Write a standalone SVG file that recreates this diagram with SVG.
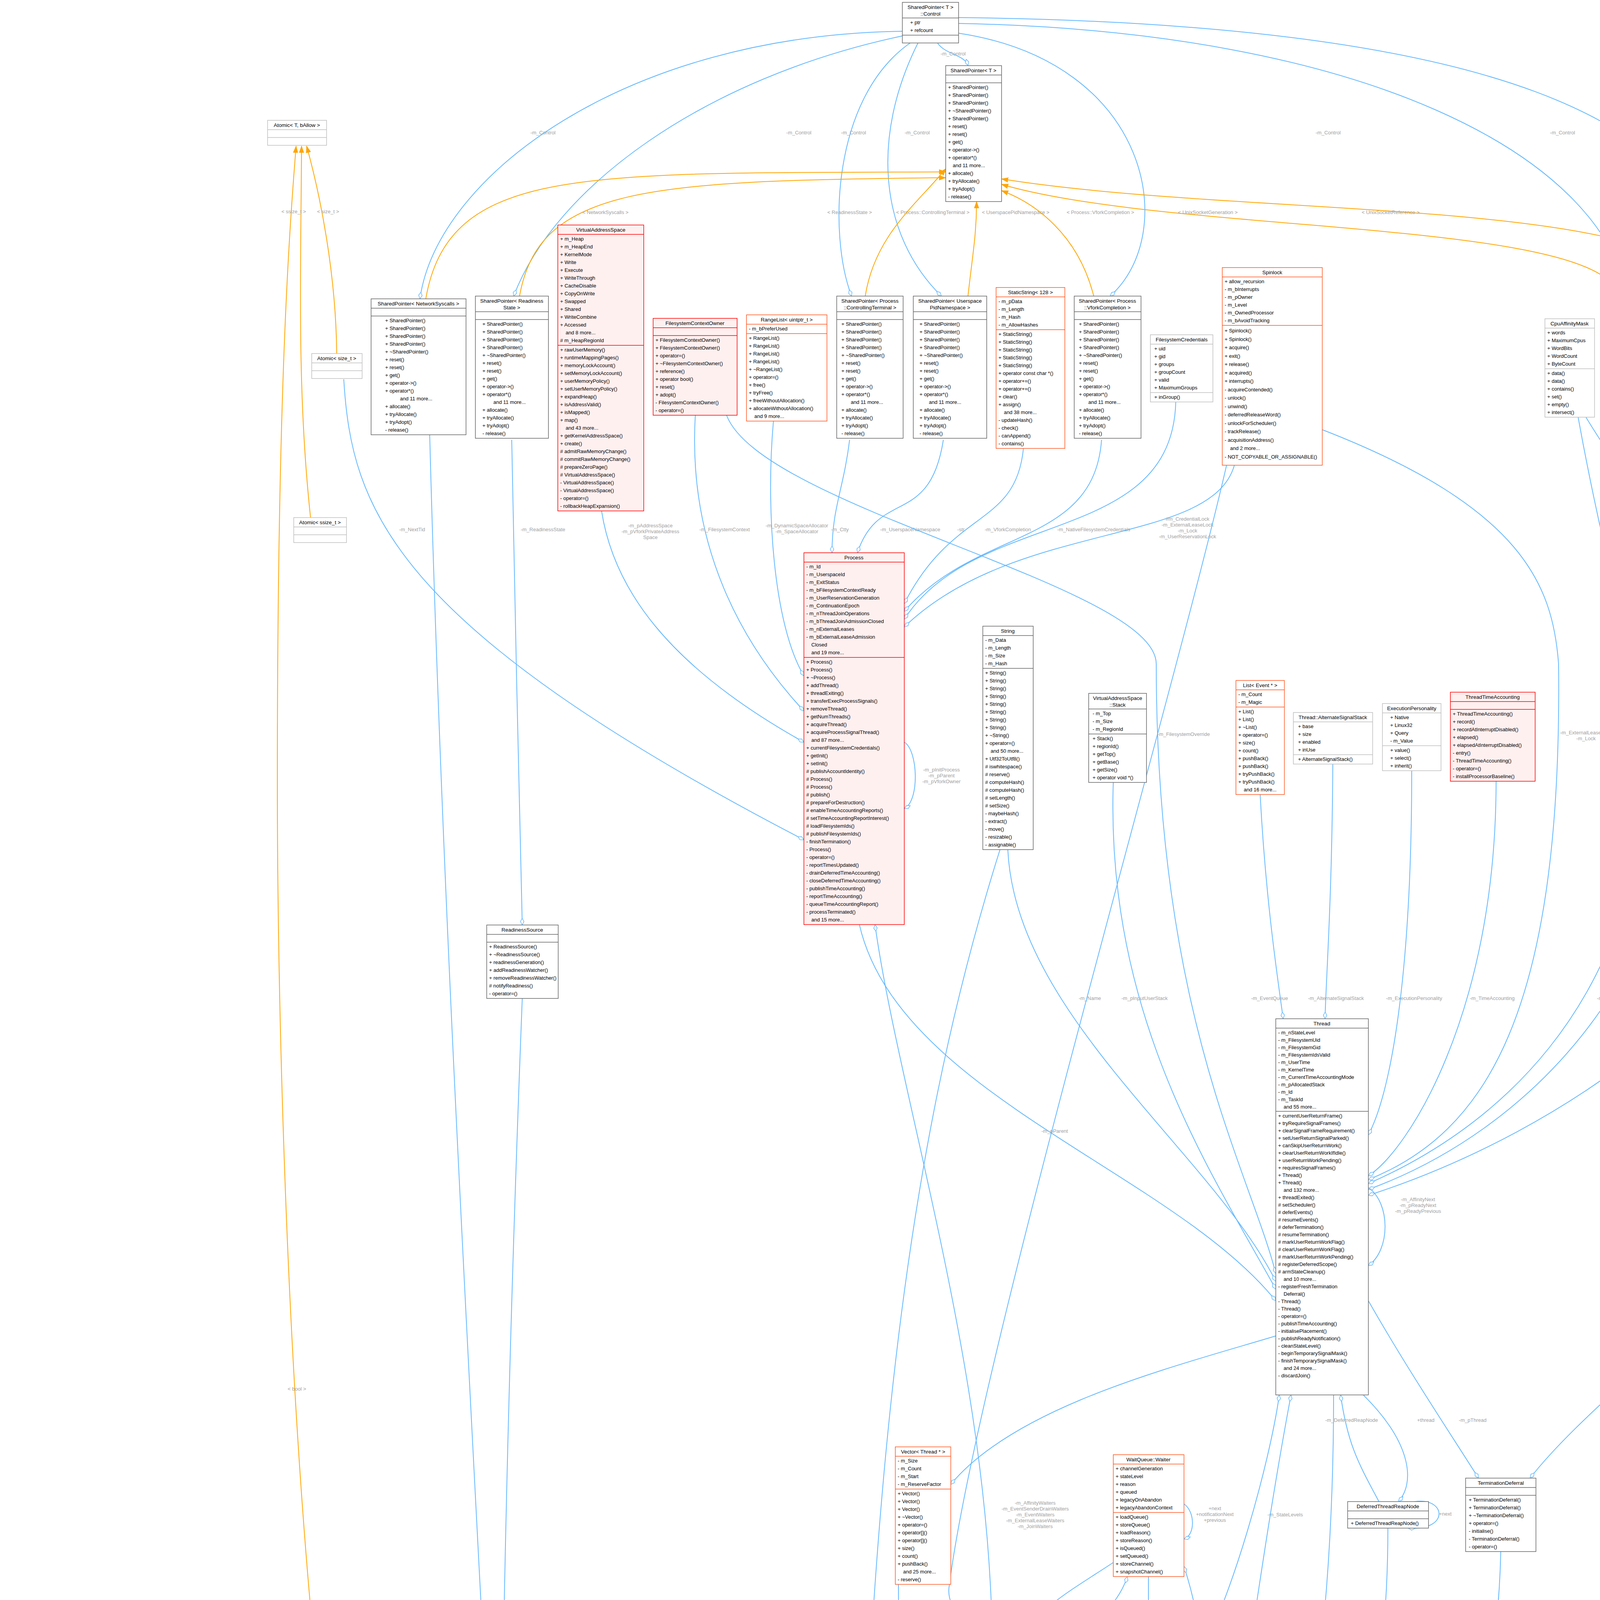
<svg xmlns="http://www.w3.org/2000/svg" width="5197" height="7208" viewBox="0 0 5197 7208">
<style>
.b{fill:#fff;stroke:#666;stroke-width:1.5}
.l{fill:#fff;stroke:#bfbfbf;stroke-width:1.5}
.o{fill:#fff;stroke:#ff5722;stroke-width:1.5}
.r{fill:#fff0f0;stroke:#ff0000;stroke-width:1.5}
.g{fill:#999;stroke:#666;stroke-width:1.5}
.s{stroke:#666;stroke-width:1.5;fill:none}
.so{stroke:#ff5722;stroke-width:1.5;fill:none}
.sr{stroke:#ff0000;stroke-width:1.5;fill:none}
.sl{stroke:#bfbfbf;stroke-width:1.5;fill:none}
text{font-family:"Liberation Sans",Arial,sans-serif;font-size:13px;fill:#000}
.t{text-anchor:middle;font-size:13.5px}
.lb{fill:#a0a0a0;text-anchor:middle}
.c{fill:none;stroke:#63b8ff;stroke-width:2}
.i{fill:none;stroke:#ffa500;stroke-width:2}
</style>
<defs>
<marker id="d" markerWidth="20" markerHeight="12" refX="18" refY="6" orient="auto" markerUnits="userSpaceOnUse"><path d="M1,6 L9,1.5 L18,6 L9,10.5 Z" fill="#fff" stroke="#63b8ff" stroke-width="1.5"/></marker>
<marker id="a" markerWidth="18" markerHeight="14" refX="17" refY="7" orient="auto" markerUnits="userSpaceOnUse"><path d="M0,1 L17,7 L0,13 Z" fill="#ffa500" stroke="#ffa500"/></marker>
<marker id="h" markerWidth="18" markerHeight="14" refX="17" refY="7" orient="auto" markerUnits="userSpaceOnUse"><path d="M0,1 L17,7 L0,13 Z" fill="#fff" stroke="#63b8ff" stroke-width="1.5"/></marker>
</defs>
<rect width="5197" height="7208" fill="#fff"/>

<g id="connectors">
<path class="c" marker-end="url(#d)" d="M2400,110 C2420,140 2470,140 2478,168"/>
<path class="c" marker-end="url(#d)" d="M2310,80 C1600,90 1120,450 1075,765"/>
<path class="c" marker-end="url(#d)" d="M2310,92 C1800,200 1420,480 1315,758"/>
<path class="c" marker-end="url(#d)" d="M2330,110 C2130,250 2120,600 2180,758"/>
<path class="c" marker-end="url(#d)" d="M2350,110 C2230,350 2250,600 2410,758"/>
<path class="c" marker-end="url(#d)" d="M2454,85 C2950,160 3020,600 2842,758"/>
<path class="c" marker-end="url(#d)" d="M2454,60 C3500,80 4100,400 4165,758"/>
<path class="c" marker-end="url(#d)" d="M2454,45 C3800,60 4400,300 4405,758"/>
<text class="lb" x="2440" y="142">-m_Control</text>
<text class="lb" x="1390" y="344">-m_Control</text>
<text class="lb" x="2045" y="344">-m_Control</text>
<text class="lb" x="2185" y="344">-m_Control</text>
<text class="lb" x="2348" y="344">-m_Control</text>
<text class="lb" x="3400" y="344">-m_Control</text>
<text class="lb" x="4000" y="344">-m_Control</text>
<path class="i" marker-end="url(#a)" d="M1090,765 C1150,420 1500,445 2421,440"/>
<path class="i" marker-end="url(#a)" d="M1330,758 C1380,480 1650,462 2421,455"/>
<path class="i" marker-end="url(#a)" d="M2215,758 C2240,600 2350,520 2421,432"/>
<path class="i" marker-end="url(#a)" d="M2478,758 C2490,650 2500,600 2500,516"/>
<path class="i" marker-end="url(#a)" d="M2800,758 C2760,600 2650,520 2564,488"/>
<path class="i" marker-end="url(#a)" d="M4145,758 C4100,560 3000,600 2564,472"/>
<path class="i" marker-end="url(#a)" d="M4380,758 C4300,500 3200,560 2564,458"/>
<text class="lb" x="1550" y="548">&lt; NetworkSyscalls &gt;</text>
<text class="lb" x="2175" y="548">&lt; ReadinessState &gt;</text>
<text class="lb" x="2388" y="548">&lt; Process::ControllingTerminal &gt;</text>
<text class="lb" x="2600" y="548">&lt; UserspacePidNamespace &gt;</text>
<text class="lb" x="2817" y="548">&lt; Process::VforkCompletion &gt;</text>
<text class="lb" x="3092" y="548">&lt; UnixSocketGeneration &gt;</text>
<text class="lb" x="3560" y="548">&lt; UnixSocketReference &gt;</text>
<path class="i" marker-end="url(#a)" d="M862,905 C860,700 820,500 785,374"/>
<path class="i" marker-end="url(#a)" d="M795,1325 C760,1000 770,700 772,374"/>
<path class="i" marker-end="url(#a)" d="M1025,5310 C780,4900 710,3000 710,2000 C710,1000 740,600 758,374"/>
<text class="lb" x="840" y="546">&lt; size_t &gt;</text>
<text class="lb" x="752" y="546">&lt; ssize_t &gt;</text>
<text class="lb" x="760" y="3560">&lt; bool &gt;</text>
<path class="c" marker-end="url(#d)" d="M385,4345 C420,4360 420,4420 401,4430"/>
<text class="lb" x="470" y="4368">+leftChild</text>
<text class="lb" x="470" y="4383">+parent</text>
<text class="lb" x="470" y="4398">+rightChild</text>
<path class="c" marker-end="url(#d)" d="M342,4438 C360,4600 405,4700 415,4782"/>
<text class="lb" x="440" y="4613">+value</text>
<text class="lb" x="440" y="4628">-pNode</text>
<text class="lb" x="440" y="4643">-pPreviousNode</text>
<path class="c" marker-end="url(#d)" d="M322,4438 C300,4700 280,4900 280,5120"/>
<text class="lb" x="313" y="4868">-root</text>
<path class="c" marker-end="url(#d)" d="M400,4950 C380,5030 350,5070 337,5120"/>
<text class="lb" x="380" y="5092">-m_Begin</text>
<path class="c" marker-end="url(#d)" d="M380,4438 C520,4650 640,5000 650,5830"/>
<text class="lb" x="660" y="5092">-root</text>
<path class="c" marker-end="url(#d)" d="M462,4950 C520,5300 600,5600 590,5830"/>
<text class="lb" x="570" y="5346">-m_Begin</text>
<path class="c" marker-end="url(#d)" d="M300,4438 C200,4700 150,5200 190,5830"/>
<path class="c" marker-end="url(#d)" d="M435,4950 C420,5400 480,5600 335,5880"/>
<text class="lb" x="430" y="5346">-m_Begin</text>
<path class="i" marker-end="url(#a)" d="M150,5850 C100,5600 120,5500 189,5420"/>
<path class="i" marker-end="url(#a)" d="M508,5830 C430,5700 380,5650 338,5572"/>
<text class="lb" x="190" y="5600">&lt; UnixSocket *, UnixSocket * &gt;</text>
<text class="lb" x="445" y="5600">&lt; UnixSocket *, UnixSocket</text>
<text class="lb" x="445" y="5615">Syscalls * &gt;</text>
<path class="c" marker-end="url(#d)" d="M880,971 C900,1300 1000,1600 2058,2150"/>
<text class="lb" x="1055" y="1360">-m_NextTid</text>
<path class="c" marker-end="url(#d)" d="M1310,1126 C1315,1500 1330,2000 1337,2368"/>
<text class="lb" x="1390" y="1360">-m_ReadinessState</text>
<path class="c" marker-end="url(#d)" d="M1540,1308 C1570,1500 1700,1700 2058,1900"/>
<text class="lb" x="1665" y="1350">-m_pAddressSpace</text>
<text class="lb" x="1665" y="1365">-m_pVforkPrivateAddress</text>
<text class="lb" x="1665" y="1380">Space</text>
<path class="c" marker-end="url(#d)" d="M1780,1063 C1760,1400 1900,1650 2058,1820"/>
<text class="lb" x="1855" y="1360">-m_FilesystemContext</text>
<path class="c" marker-end="url(#d)" d="M1980,1078 C1960,1300 1980,1600 2058,1730"/>
<text class="lb" x="2040" y="1350">-m_DynamicSpaceAllocator</text>
<text class="lb" x="2040" y="1365">-m_SpaceAllocator</text>
<path class="c" marker-end="url(#d)" d="M2175,1126 C2160,1250 2130,1300 2130,1415"/>
<text class="lb" x="2150" y="1360">-m_Ctty</text>
<path class="c" marker-end="url(#d)" d="M2415,1126 C2380,1350 2250,1250 2195,1415"/>
<text class="lb" x="2330" y="1360">-m_UserspaceNamespace</text>
<path class="c" marker-end="url(#d)" d="M2620,1148 C2600,1350 2440,1300 2315,1545"/>
<text class="lb" x="2460" y="1360">-str</text>
<path class="c" marker-end="url(#d)" d="M2820,1126 C2800,1400 2500,1350 2315,1565"/>
<text class="lb" x="2580" y="1360">-m_VforkCompletion</text>
<path class="c" marker-end="url(#d)" d="M3010,1029 C3000,1400 2500,1300 2315,1585"/>
<text class="lb" x="2800" y="1360">-m_NativeFilesystemCredentials</text>
<path class="c" marker-end="url(#d)" d="M3160,1191 C3100,1400 2600,1330 2315,1605"/>
<text class="lb" x="3040" y="1333">#m_CredentialLock</text>
<text class="lb" x="3040" y="1348">-m_ExternalLeaseLock</text>
<text class="lb" x="3040" y="1363">-m_Lock</text>
<text class="lb" x="3040" y="1378">-m_UserReservationLock</text>
<path class="c" marker-end="url(#d)" d="M2315,1900 C2350,1920 2355,2050 2315,2070"/>
<text class="lb" x="2410" y="1975">-m_pInitProcess</text>
<text class="lb" x="2410" y="1990">-m_pParent</text>
<text class="lb" x="2410" y="2005">-m_pVforkOwner</text>
<path class="c" marker-end="url(#d)" d="M2200,2367 C2300,2800 3000,3000 3266,3330"/>
<text class="lb" x="2700" y="2900">-m_pParent</text>
<path class="c" marker-end="url(#d)" d="M2580,2175 C2600,2600 3100,2950 3266,3280"/>
<text class="lb" x="2790" y="2560">-m_Name</text>
<path class="c" marker-end="url(#d)" d="M2850,2003 C2830,2600 3100,3000 3266,3300"/>
<text class="lb" x="2930" y="2560">-m_pInputUserStack</text>
<path class="c" marker-end="url(#d)" d="M1860,1063 C1950,1300 2960,1500 2960,1700 C2960,2600 3200,3000 3266,3260"/>
<text class="lb" x="3030" y="1884">-m_FilesystemOverride</text>
<path class="c" marker-end="url(#d)" d="M3226,2034 C3240,2300 3270,2500 3285,2608"/>
<text class="lb" x="3250" y="2560">-m_EventQueue</text>
<path class="c" marker-end="url(#d)" d="M3412,1956 C3410,2300 3395,2500 3392,2608"/>
<text class="lb" x="3420" y="2560">-m_AlternateSignalStack</text>
<path class="c" marker-end="url(#d)" d="M3614,1973 C3614,2500 3560,2800 3503,2905"/>
<text class="lb" x="3620" y="2560">-m_ExecutionPersonality</text>
<path class="c" marker-end="url(#d)" d="M3830,2000 C3830,2600 3600,2950 3503,3010"/>
<text class="lb" x="3820" y="2560">-m_TimeAccounting</text>
<path class="c" marker-end="url(#d)" d="M4219,1934 C4200,2600 3800,2900 3503,3030"/>
<text class="lb" x="4130" y="2560">-m_Placement</text>
<path class="c" marker-end="url(#d)" d="M3385,1100 C3900,1300 3975,1500 3990,1700 C4000,2600 3800,2900 3503,3020"/>
<text class="lb" x="4060" y="1880">-m_ExternalLeaseLock</text>
<text class="lb" x="4060" y="1895">-m_Lock</text>
<path class="c" marker-end="url(#d)" d="M4040,1068 C4100,1400 4180,1700 4220,1842"/>
<text class="lb" x="4240" y="1560">+allowed</text>
<path class="c" marker-end="url(#d)" d="M4060,1068 C4200,1300 4330,1400 4330,1800 C4330,2500 3900,2900 3503,3045"/>
<text class="lb" x="4420" y="2062">-m_RequestedAffinity</text>
<path class="c" marker-end="url(#d)" d="M4640,1973 C4600,2500 4000,2900 3503,3060"/>
<path class="c" marker-end="url(#d)" d="M4681,1800 C4710,1830 4710,1950 4681,1960"/>
<text class="lb" x="4730" y="1886">+next</text>
<path class="c" marker-end="url(#d)" d="M3503,3040 C3560,3080 3560,3200 3503,3240"/>
<text class="lb" x="3630" y="3075">-m_AffinityNext</text>
<text class="lb" x="3630" y="3090">-m_pReadyNext</text>
<text class="lb" x="3630" y="3105">-m_pReadyPrevious</text>
<path class="c" marker-end="url(#d)" d="M3530,3844 C3480,3750 3450,3700 3432,3571"/>
<text class="lb" x="3460" y="3640">-m_DeferredReapNode</text>
<path class="c" marker-end="url(#d)" d="M3490,3571 C3620,3700 3620,3800 3580,3844"/>
<text class="lb" x="3650" y="3640">+thread</text>
<path class="c" marker-end="url(#d)" d="M3605,3848 C3700,3820 3720,3920 3605,3912"/>
<text class="lb" x="3700" y="3880">+next</text>
<path class="c" marker-end="url(#d)" d="M3503,3330 C3600,3500 3700,3650 3785,3784"/>
<text class="lb" x="3770" y="3640">-m_pThread</text>
<path class="c" marker-end="url(#d)" d="M4700,2900 C4500,3300 4100,3550 3917,3784"/>
<path class="c" marker-end="url(#d)" d="M3073,4230 C3150,4100 3250,3750 3275,3571"/>
<text class="lb" x="3290" y="3882">-m_StateLevels</text>
<path class="c" marker-end="url(#d)" d="M2654,5660 C3100,5500 3130,4500 3305,3571"/>
<text class="lb" x="3340" y="4627">-m_pScheduler</text>
<path class="c" marker-end="url(#d)" d="M3414,3571 C3414,5000 3000,5600 2654,5675"/>
<text class="lb" x="3510" y="4626">-m_AffinityHead</text>
<text class="lb" x="3510" y="4641">-m_AffinityTail</text>
<text class="lb" x="3510" y="4656">-m_pIdleThread</text>
<path class="c" marker-end="url(#d)" d="M2654,5690 C3150,5400 3160,4400 3031,4010"/>
<text class="lb" x="3230" y="4866">+scheduler</text>
<path class="c" marker-end="url(#d)" d="M3553,3912 C3553,5000 3000,5600 2654,5700"/>
<text class="lb" x="3640" y="4866">-m_DeferredThreadReapStub</text>
<path class="c" marker-end="url(#d)" d="M3842,3972 C3820,5000 3100,5600 2654,5712"/>
<text class="lb" x="3900" y="4866">-m_TerminationDeferral</text>
<path class="c" marker-end="url(#d)" d="M2940,4036 L2940,4186"/>
<text class="lb" x="2990" y="4118">+m_Waiter</text>
<path class="c" marker-end="url(#d)" d="M2850,4000 C2760,4060 2650,4120 2622,4190"/>
<text class="lb" x="2755" y="4112">-m_pFirstWaiter</text>
<text class="lb" x="2755" y="4127">-m_pLastWaiter</text>
<path class="c" marker-end="url(#d)" d="M2622,4310 C2760,4200 2860,4120 2886,4036"/>
<text class="lb" x="2900" y="4118">+queue</text>
<path class="c" marker-end="url(#d)" d="M3031,3850 C3060,3870 3060,3930 3031,3940"/>
<text class="lb" x="3110" y="3866">+next</text>
<text class="lb" x="3110" y="3881">+notificationNext</text>
<text class="lb" x="3110" y="3896">+previous</text>
<path class="c" marker-end="url(#d)" d="M2540,4190 C2530,3500 2300,2800 2240,2367"/>
<text class="lb" x="2650" y="3852">-m_AffinityWaiters</text>
<text class="lb" x="2650" y="3867">-m_EventSenderDrainWaiters</text>
<text class="lb" x="2650" y="3882">-m_EventWaiters</text>
<text class="lb" x="2650" y="3897">-m_ExternalLeaseWaiters</text>
<text class="lb" x="2650" y="3912">-m_JoinWaiters</text>
<path class="c" marker-end="url(#d)" d="M3140,1191 C3000,1800 2500,3500 2430,4060 C2420,4120 2480,4150 2490,4190"/>
<text class="lb" x="2410" y="4114">-m_AffinityQueueLock</text>
<text class="lb" x="2410" y="4129">-m_IrqWorkLock</text>
<path class="c" marker-end="url(#d)" d="M3266,3420 C3000,3500 2600,3600 2434,3800"/>
<path class="c" marker-end="url(#d)" d="M2300,4056 C2300,4600 2350,5300 2440,5642"/>
<path class="c" marker-end="url(#d)" d="M2522,4582 L2522,5642"/>
<text class="lb" x="2700" y="5110">-m_TimeAccountingWorkerWaiters</text>
<path class="c" marker-end="url(#d)" d="M2422,4420 C2100,4550 1900,4600 1670,4750"/>
<text class="lb" x="1960" y="4632">-m_Waiters</text>
<path class="c" marker-end="url(#d)" d="M2422,4470 C2250,4600 2150,4700 2035,4780"/>
<text class="lb" x="2400" y="4632">-m_Waiters</text>
<path class="c" marker-end="url(#d)" d="M2560,2175 C2300,3000 2185,4000 2185,6000 C2185,6500 1800,6700 1755,6790"/>
<text class="lb" x="2245" y="4622">-m_LocalPath</text>
<text class="lb" x="2245" y="4637">-m_RemotePath</text>
<path class="c" marker-end="url(#h)" d="M1745,5280 C1720,5200 1680,5130 1655,5064"/>
<path class="c" marker-end="url(#d)" d="M1850,5406 C2000,5600 2200,5900 2390,6050"/>
<text class="lb" x="2160" y="5710">-m_NewThreadDataLock</text>
<path class="c" marker-end="url(#d)" d="M1879,5350 C2300,5400 2700,5600 2810,5977"/>
<text class="lb" x="2690" y="5606">-m_Lock</text>
<path class="c" marker-end="url(#d)" d="M1770,5406 C1740,5800 1700,6200 1660,6555"/>
<text class="lb" x="1840" y="6102">-m_EndpointMutationLock</text>
<text class="lb" x="1840" y="6117">-m_EndpointStateLock</text>
<text class="lb" x="1840" y="6132">-m_SyscallObjectsLock</text>
<path class="c" marker-end="url(#d)" d="M1740,5406 C1650,5600 1420,5500 1395,5797"/>
<text class="lb" x="1540" y="5596">#m_ReceiveErrorLock</text>
<text class="lb" x="1540" y="5611">-m_LifecycleLock</text>
<path class="c" marker-end="url(#d)" d="M1500,5064 C1420,5300 1600,5500 1370,5797"/>
<text class="lb" x="1530" y="5346">#m_ReadinessNotifications</text>
<path class="c" marker-end="url(#d)" d="M1030,5374 C1040,5700 1250,5500 1340,5797"/>
<text class="lb" x="1120" y="5606">#m_Blocking</text>
<path class="c" marker-end="url(#d)" d="M1020,5374 C960,5800 1000,6500 1500,6830"/>
<text class="lb" x="1130" y="6043">-m_EndpointCloseFinalized</text>
<text class="lb" x="1130" y="6058">-m_EndpointClosePending</text>
<text class="lb" x="1130" y="6073">-m_EndpointMutationReleaseIn</text>
<text class="lb" x="1130" y="6088">Progress</text>
<text class="lb" x="1130" y="6103">-m_EndpointRetired</text>
<path class="c" marker-end="url(#h)" d="M1560,6555 C1530,6450 1500,6380 1470,6329"/>
<path class="c" marker-end="url(#d)" d="M602,6298 C700,6600 1100,6750 1500,6870"/>
<path class="c" marker-end="url(#d)" d="M242,6298 C300,6700 1100,6850 1500,6885"/>
<path class="c" marker-end="url(#d)" d="M1100,1113 C1150,3000 1300,5000 1300,5797"/>
<path class="c" marker-end="url(#d)" d="M1337,2556 C1300,3500 1260,5000 1290,5797"/>
<path class="c" marker-end="url(#d)" d="M4200,1122 C4300,1500 4800,1600 4800,3000 C4800,5500 2100,6400 1755,6740"/>
<path class="c" marker-end="url(#d)" d="M4420,1122 C4700,1400 5000,1900 5000,3000 C5000,5500 2200,6500 1755,6760"/>
<path class="c" marker-end="url(#d)" d="M2806,6149 C2700,6600 2200,6900 1950,7103"/>
<text class="lb" x="2640" y="6930">-m_Guard</text>
<path class="c" marker-end="url(#d)" d="M1755,6990 C1820,7040 1880,7080 1920,7103"/>
<text class="lb" x="1935" y="7078">-m_Socket</text>
</g>

<g id="n-control" transform="translate(2310,6)"><rect class="b" width="144" height="104"/><text class="t" x="72" y="17">SharedPointer&lt; T &gt;</text><text class="t" x="72" y="34">::Control</text><path class="s" d="M0,40H144M0,84H144"/><text><tspan x="20" y="56">+   ptr</tspan><tspan x="20" dy="20">+   refcount</tspan></text></g>

<g id="n-spt" transform="translate(2421,168)"><rect class="b" width="143" height="348"/><text class="t" x="71" y="17">SharedPointer&lt; T &gt;</text><path class="s" d="M0,24H143M0,44H143"/><text><tspan x="6" y="60">+ SharedPointer()</tspan><tspan x="6" dy="20">+ SharedPointer()</tspan><tspan x="6" dy="20">+ SharedPointer()</tspan><tspan x="6" dy="20">+ ~SharedPointer()</tspan><tspan x="6" dy="20">+ SharedPointer()</tspan><tspan x="6" dy="20">+ reset()</tspan><tspan x="6" dy="20">+ reset()</tspan><tspan x="6" dy="20">+ get()</tspan><tspan x="6" dy="20">+ operator-&gt;()</tspan><tspan x="6" dy="20">+ operator*()</tspan><tspan x="18" dy="20">and 11 more...</tspan><tspan x="6" dy="20">+ allocate()</tspan><tspan x="6" dy="20">+ tryAllocate()</tspan><tspan x="6" dy="20">+ tryAdopt()</tspan><tspan x="6" dy="20">- release()</tspan></text></g>

<g id="n-sp-ct" transform="translate(2142,758)"><rect class="b" width="170" height="364"/><text class="t" x="85" y="17">SharedPointer&lt; Process</text><text class="t" x="85" y="34">::ControllingTerminal &gt;</text><path class="s" d="M0,40H170M0,60H170"/><text><tspan x="12" y="76">+   SharedPointer()</tspan><tspan x="12" dy="20">+   SharedPointer()</tspan><tspan x="12" dy="20">+   SharedPointer()</tspan><tspan x="12" dy="20">+   SharedPointer()</tspan><tspan x="12" dy="20">+   ~SharedPointer()</tspan><tspan x="12" dy="20">+   reset()</tspan><tspan x="12" dy="20">+   reset()</tspan><tspan x="12" dy="20">+   get()</tspan><tspan x="12" dy="20">+   operator-&gt;()</tspan><tspan x="12" dy="20">+   operator*()</tspan><tspan x="36" dy="20">and 11 more...</tspan><tspan x="12" dy="20">+   allocate()</tspan><tspan x="12" dy="20">+   tryAllocate()</tspan><tspan x="12" dy="20">+   tryAdopt()</tspan><tspan x="12" dy="20">-   release()</tspan></text></g>

<g id="n-sp-upn" transform="translate(2338,758)"><rect class="b" width="188" height="364"/><text class="t" x="94" y="17">SharedPointer&lt; Userspace</text><text class="t" x="94" y="34">PidNamespace &gt;</text><path class="s" d="M0,40H188M0,60H188"/><text><tspan x="16" y="76">+   SharedPointer()</tspan><tspan x="16" dy="20">+   SharedPointer()</tspan><tspan x="16" dy="20">+   SharedPointer()</tspan><tspan x="16" dy="20">+   SharedPointer()</tspan><tspan x="16" dy="20">+   ~SharedPointer()</tspan><tspan x="16" dy="20">+   reset()</tspan><tspan x="16" dy="20">+   reset()</tspan><tspan x="16" dy="20">+   get()</tspan><tspan x="16" dy="20">+   operator-&gt;()</tspan><tspan x="16" dy="20">+   operator*()</tspan><tspan x="40" dy="20">and 11 more...</tspan><tspan x="16" dy="20">+   allocate()</tspan><tspan x="16" dy="20">+   tryAllocate()</tspan><tspan x="16" dy="20">+   tryAdopt()</tspan><tspan x="16" dy="20">-   release()</tspan></text></g>

<g id="n-staticstring" transform="translate(2550,736)"><rect class="o" width="176" height="412"/><text class="t" x="88" y="17">StaticString&lt; 128 &gt;</text><path class="so" d="M0,24H176M0,108H176"/><text><tspan x="6" y="40">- m_pData</tspan><tspan x="6" dy="20">- m_Length</tspan><tspan x="6" dy="20">- m_Hash</tspan><tspan x="6" dy="20">- m_AllowHashes</tspan><tspan x="6" y="124">+ StaticString()</tspan><tspan x="6" dy="20">+ StaticString()</tspan><tspan x="6" dy="20">+ StaticString()</tspan><tspan x="6" dy="20">+ StaticString()</tspan><tspan x="6" dy="20">+ StaticString()</tspan><tspan x="6" dy="20">+ operator const char *()</tspan><tspan x="6" dy="20">+ operator+=()</tspan><tspan x="6" dy="20">+ operator+=()</tspan><tspan x="6" dy="20">+ clear()</tspan><tspan x="6" dy="20">+ assign()</tspan><tspan x="20" dy="20">and 38 more...</tspan><tspan x="6" dy="20">- updateHash()</tspan><tspan x="6" dy="20">- check()</tspan><tspan x="6" dy="20">- canAppend()</tspan><tspan x="6" dy="20">- contains()</tspan></text></g>

<g id="n-sp-vf" transform="translate(2750,758)"><rect class="b" width="171" height="364"/><text class="t" x="85" y="17">SharedPointer&lt; Process</text><text class="t" x="85" y="34">::VforkCompletion &gt;</text><path class="s" d="M0,40H171M0,60H171"/><text><tspan x="12" y="76">+   SharedPointer()</tspan><tspan x="12" dy="20">+   SharedPointer()</tspan><tspan x="12" dy="20">+   SharedPointer()</tspan><tspan x="12" dy="20">+   SharedPointer()</tspan><tspan x="12" dy="20">+   ~SharedPointer()</tspan><tspan x="12" dy="20">+   reset()</tspan><tspan x="12" dy="20">+   reset()</tspan><tspan x="12" dy="20">+   get()</tspan><tspan x="12" dy="20">+   operator-&gt;()</tspan><tspan x="12" dy="20">+   operator*()</tspan><tspan x="36" dy="20">and 11 more...</tspan><tspan x="12" dy="20">+   allocate()</tspan><tspan x="12" dy="20">+   tryAllocate()</tspan><tspan x="12" dy="20">+   tryAdopt()</tspan><tspan x="12" dy="20">-   release()</tspan></text></g>

<g id="n-fscred" transform="translate(2945,857)"><rect class="l" width="160" height="172"/><text class="t" x="80" y="17">FilesystemCredentials</text><path class="sl" d="M0,24H160M0,148H160"/><text><tspan x="10" y="40">+  uid</tspan><tspan x="10" dy="20">+  gid</tspan><tspan x="10" dy="20">+  groups</tspan><tspan x="10" dy="20">+  groupCount</tspan><tspan x="10" dy="20">+  valid</tspan><tspan x="10" dy="20">+  MaximumGroups</tspan><tspan x="10" y="164">+  inGroup()</tspan></text></g>

<g id="n-spinlock" transform="translate(3129,685)"><rect class="o" width="256" height="506"/><text class="t" x="128" y="17">Spinlock</text><path class="so" d="M0,24H256M0,148H256"/><text><tspan x="6" y="40">+ allow_recursion</tspan><tspan x="6" dy="20">- m_bInterrupts</tspan><tspan x="6" dy="20">- m_pOwner</tspan><tspan x="6" dy="20">- m_Level</tspan><tspan x="6" dy="20">- m_OwnedProcessor</tspan><tspan x="6" dy="20">- m_bAvoidTracking</tspan><tspan x="6" y="166">+ Spinlock()</tspan><tspan x="6" dy="21.5">+ Spinlock()</tspan><tspan x="6" dy="21.5">+ acquire()</tspan><tspan x="6" dy="21.5">+ exit()</tspan><tspan x="6" dy="21.5">+ release()</tspan><tspan x="6" dy="21.5">+ acquired()</tspan><tspan x="6" dy="21.5">+ interrupts()</tspan><tspan x="6" dy="21.5">- acquireContended()</tspan><tspan x="6" dy="21.5">- unlock()</tspan><tspan x="6" dy="21.5">- unwind()</tspan><tspan x="6" dy="21.5">- deferredReleaseWord()</tspan><tspan x="6" dy="21.5">- unlockForScheduler()</tspan><tspan x="6" dy="21.5">- trackRelease()</tspan><tspan x="6" dy="21.5">- acquisitionAddress()</tspan><tspan x="20" dy="21.5">and 2 more...</tspan><tspan x="6" dy="21.5">- NOT_COPYABLE_OR_ASSIGNABLE()</tspan></text></g>

<g id="n-cpuaffinity" transform="translate(3955,816)"><rect class="l" width="127" height="252"/><text class="t" x="63" y="17">CpuAffinityMask</text><path class="sl" d="M0,24H127M0,128H127"/><text><tspan x="6" y="40">+ words</tspan><tspan x="6" dy="20">+ MaximumCpus</tspan><tspan x="6" dy="20">+ WordBits</tspan><tspan x="6" dy="20">+ WordCount</tspan><tspan x="6" dy="20">+ ByteCount</tspan><tspan x="6" y="144">+ data()</tspan><tspan x="6" dy="20">+ data()</tspan><tspan x="6" dy="20">+ contains()</tspan><tspan x="6" dy="20">+ set()</tspan><tspan x="6" dy="20">+ empty()</tspan><tspan x="6" dy="20">+ intersect()</tspan></text></g>

<g id="n-sp-usg" transform="translate(4105,758)"><rect class="b" width="194" height="364"/><text class="t" x="97" y="17">SharedPointer&lt; UnixSocket</text><text class="t" x="97" y="34">Generation &gt;</text><path class="s" d="M0,40H194M0,60H194"/><text><tspan x="20" y="76">+   SharedPointer()</tspan><tspan x="20" dy="20">+   SharedPointer()</tspan><tspan x="20" dy="20">+   SharedPointer()</tspan><tspan x="20" dy="20">+   SharedPointer()</tspan><tspan x="20" dy="20">+   ~SharedPointer()</tspan><tspan x="20" dy="20">+   reset()</tspan><tspan x="20" dy="20">+   reset()</tspan><tspan x="20" dy="20">+   get()</tspan><tspan x="20" dy="20">+   operator-&gt;()</tspan><tspan x="20" dy="20">+   operator*()</tspan><tspan x="44" dy="20">and 11 more...</tspan><tspan x="20" dy="20">+   allocate()</tspan><tspan x="20" dy="20">+   tryAllocate()</tspan><tspan x="20" dy="20">+   tryAdopt()</tspan><tspan x="20" dy="20">-   release()</tspan></text></g>

<g id="n-sp-usr" transform="translate(4322,758)"><rect class="b" width="194" height="364"/><text class="t" x="97" y="17">SharedPointer&lt; UnixSocket</text><text class="t" x="97" y="34">Reference &gt;</text><path class="s" d="M0,40H194M0,60H194"/><text><tspan x="20" y="76">+   SharedPointer()</tspan><tspan x="20" dy="20">+   SharedPointer()</tspan><tspan x="20" dy="20">+   SharedPointer()</tspan><tspan x="20" dy="20">+   SharedPointer()</tspan><tspan x="20" dy="20">+   ~SharedPointer()</tspan><tspan x="20" dy="20">+   reset()</tspan><tspan x="20" dy="20">+   reset()</tspan><tspan x="20" dy="20">+   get()</tspan><tspan x="20" dy="20">+   operator-&gt;()</tspan><tspan x="20" dy="20">+   operator*()</tspan><tspan x="44" dy="20">and 11 more...</tspan><tspan x="20" dy="20">+   allocate()</tspan><tspan x="20" dy="20">+   tryAllocate()</tspan><tspan x="20" dy="20">+   tryAdopt()</tspan><tspan x="20" dy="20">-   release()</tspan></text></g>

<g id="n-atomic-t" transform="translate(685,308)"><rect class="l" width="151" height="64"/><text class="t" x="75" y="17">Atomic&lt; T, bAllow &gt;</text><path class="sl" d="M0,24H151M0,44H151"/></g>
<g id="n-atomic-size" transform="translate(798,905)"><rect class="l" width="129" height="64"/><text class="t" x="64" y="17">Atomic&lt; size_t &gt;</text><path class="sl" d="M0,24H129M0,44H129"/></g>
<g id="n-atomic-ssize" transform="translate(752,1325)"><rect class="l" width="135" height="64"/><text class="t" x="67" y="17">Atomic&lt; ssize_t &gt;</text><path class="sl" d="M0,24H135M0,44H135"/></g>
<g id="n-atomic-bool" transform="translate(966,5310)"><rect class="l" width="119" height="64"/><text class="t" x="59" y="17">Atomic&lt; bool &gt;</text><path class="sl" d="M0,24H119M0,44H119"/></g>

<g id="n-sp-ns" transform="translate(950,765)"><rect class="b" width="243" height="348"/><text class="t" x="121" y="17">SharedPointer&lt; NetworkSyscalls &gt;</text><path class="s" d="M0,24H243M0,44H243"/><text><tspan x="36" y="60">+        SharedPointer()</tspan><tspan x="36" dy="20">+        SharedPointer()</tspan><tspan x="36" dy="20">+        SharedPointer()</tspan><tspan x="36" dy="20">+        SharedPointer()</tspan><tspan x="36" dy="20">+        ~SharedPointer()</tspan><tspan x="36" dy="20">+        reset()</tspan><tspan x="36" dy="20">+        reset()</tspan><tspan x="36" dy="20">+        get()</tspan><tspan x="36" dy="20">+        operator-&gt;()</tspan><tspan x="36" dy="20">+        operator*()</tspan><tspan x="74" dy="20">and 11 more...</tspan><tspan x="36" dy="20">+        allocate()</tspan><tspan x="36" dy="20">+        tryAllocate()</tspan><tspan x="36" dy="20">+        tryAdopt()</tspan><tspan x="36" dy="20">-        release()</tspan></text></g>

<g id="n-sp-rs" transform="translate(1217,758)"><rect class="b" width="187" height="364"/><text class="t" x="93" y="17">SharedPointer&lt; Readiness</text><text class="t" x="93" y="34">State &gt;</text><path class="s" d="M0,40H187M0,60H187"/><text><tspan x="18" y="76">+    SharedPointer()</tspan><tspan x="18" dy="20">+    SharedPointer()</tspan><tspan x="18" dy="20">+    SharedPointer()</tspan><tspan x="18" dy="20">+    SharedPointer()</tspan><tspan x="18" dy="20">+    ~SharedPointer()</tspan><tspan x="18" dy="20">+    reset()</tspan><tspan x="18" dy="20">+    reset()</tspan><tspan x="18" dy="20">+    get()</tspan><tspan x="18" dy="20">+    operator-&gt;()</tspan><tspan x="18" dy="20">+    operator*()</tspan><tspan x="46" dy="20">and 11 more...</tspan><tspan x="18" dy="20">+    allocate()</tspan><tspan x="18" dy="20">+    tryAllocate()</tspan><tspan x="18" dy="20">+    tryAdopt()</tspan><tspan x="18" dy="20">-    release()</tspan></text></g>

<g id="n-vas" transform="translate(1428,576)"><rect class="r" width="220" height="732"/><text class="t" x="110" y="17">VirtualAddressSpace</text><path class="sr" d="M0,24H220M0,308H220"/><text><tspan x="6" y="40">+ m_Heap</tspan><tspan x="6" dy="20">+ m_HeapEnd</tspan><tspan x="6" dy="20">+ KernelMode</tspan><tspan x="6" dy="20">+ Write</tspan><tspan x="6" dy="20">+ Execute</tspan><tspan x="6" dy="20">+ WriteThrough</tspan><tspan x="6" dy="20">+ CacheDisable</tspan><tspan x="6" dy="20">+ CopyOnWrite</tspan><tspan x="6" dy="20">+ Swapped</tspan><tspan x="6" dy="20">+ Shared</tspan><tspan x="6" dy="20">+ WriteCombine</tspan><tspan x="6" dy="20">+ Accessed</tspan><tspan x="20" dy="20">and 8 more...</tspan><tspan x="6" dy="20"># m_HeapRegionId</tspan><tspan x="6" y="324">+ rawUserMemory()</tspan><tspan x="6" dy="20">+ runtimeMappingPages()</tspan><tspan x="6" dy="20">+ memoryLockAccount()</tspan><tspan x="6" dy="20">+ setMemoryLockAccount()</tspan><tspan x="6" dy="20">+ userMemoryPolicy()</tspan><tspan x="6" dy="20">+ setUserMemoryPolicy()</tspan><tspan x="6" dy="20">+ expandHeap()</tspan><tspan x="6" dy="20">+ isAddressValid()</tspan><tspan x="6" dy="20">+ isMapped()</tspan><tspan x="6" dy="20">+ map()</tspan><tspan x="20" dy="20">and 43 more...</tspan><tspan x="6" dy="20">+ getKernelAddressSpace()</tspan><tspan x="6" dy="20">+ create()</tspan><tspan x="6" dy="20"># admitRawMemoryChange()</tspan><tspan x="6" dy="20"># commitRawMemoryChange()</tspan><tspan x="6" dy="20"># prepareZeroPage()</tspan><tspan x="6" dy="20"># VirtualAddressSpace()</tspan><tspan x="6" dy="20">- VirtualAddressSpace()</tspan><tspan x="6" dy="20">- VirtualAddressSpace()</tspan><tspan x="6" dy="20">- operator=()</tspan><tspan x="6" dy="20">- rollbackHeapExpansion()</tspan></text></g>

<g id="n-fsco" transform="translate(1672,815)"><rect class="r" width="215" height="248"/><text class="t" x="107" y="17">FilesystemContextOwner</text><path class="sr" d="M0,24H215M0,44H215"/><text><tspan x="6" y="60">+ FilesystemContextOwner()</tspan><tspan x="6" dy="20">+ FilesystemContextOwner()</tspan><tspan x="6" dy="20">+ operator=()</tspan><tspan x="6" dy="20">+ ~FilesystemContextOwner()</tspan><tspan x="6" dy="20">+ reference()</tspan><tspan x="6" dy="20">+ operator bool()</tspan><tspan x="6" dy="20">+ reset()</tspan><tspan x="6" dy="20">+ adopt()</tspan><tspan x="6" dy="20">- FilesystemContextOwner()</tspan><tspan x="6" dy="20">- operator=()</tspan></text></g>

<g id="n-rangelist" transform="translate(1911,806)"><rect class="o" width="206" height="272"/><text class="t" x="103" y="17">RangeList&lt; uintptr_t &gt;</text><path class="so" d="M0,24H206M0,48H206"/><text><tspan x="6" y="40">- m_bPreferUsed</tspan><tspan x="6" y="64">+ RangeList()</tspan><tspan x="6" dy="20">+ RangeList()</tspan><tspan x="6" dy="20">+ RangeList()</tspan><tspan x="6" dy="20">+ RangeList()</tspan><tspan x="6" dy="20">+ ~RangeList()</tspan><tspan x="6" dy="20">+ operator=()</tspan><tspan x="6" dy="20">+ free()</tspan><tspan x="6" dy="20">+ tryFree()</tspan><tspan x="6" dy="20">+ freeWithoutAllocation()</tspan><tspan x="6" dy="20">+ allocateWithoutAllocation()</tspan><tspan x="20" dy="20">and 9 more...</tspan></text></g>

<g id="n-process" transform="translate(2058,1415)"><rect class="r" width="257" height="952"/><text class="t" x="128" y="17">Process</text><path class="sr" d="M0,24H257M0,268H257"/><text><tspan x="6" y="40">- m_Id</tspan><tspan x="6" dy="20">- m_UserspaceId</tspan><tspan x="6" dy="20">- m_ExitStatus</tspan><tspan x="6" dy="20">- m_bFilesystemContextReady</tspan><tspan x="6" dy="20">- m_UserReservationGeneration</tspan><tspan x="6" dy="20">- m_ContinuationEpoch</tspan><tspan x="6" dy="20">- m_nThreadJoinOperations</tspan><tspan x="6" dy="20">- m_bThreadJoinAdmissionClosed</tspan><tspan x="6" dy="20">- m_nExternalLeases</tspan><tspan x="6" dy="20">- m_bExternalLeaseAdmission</tspan><tspan x="19" dy="20">Closed</tspan><tspan x="19" dy="20">and 19 more...</tspan><tspan x="6" y="284">+ Process()</tspan><tspan x="6" dy="20">+ Process()</tspan><tspan x="6" dy="20">+ ~Process()</tspan><tspan x="6" dy="20">+ addThread()</tspan><tspan x="6" dy="20">+ threadExiting()</tspan><tspan x="6" dy="20">+ transferExecProcessSignals()</tspan><tspan x="6" dy="20">+ removeThread()</tspan><tspan x="6" dy="20">+ getNumThreads()</tspan><tspan x="6" dy="20">+ acquireThread()</tspan><tspan x="6" dy="20">+ acquireProcessSignalThread()</tspan><tspan x="19" dy="20">and 87 more...</tspan><tspan x="6" dy="20">+ currentFilesystemCredentials()</tspan><tspan x="6" dy="20">+ getInit()</tspan><tspan x="6" dy="20">+ setInit()</tspan><tspan x="6" dy="20"># publishAccountIdentity()</tspan><tspan x="6" dy="20"># Process()</tspan><tspan x="6" dy="20"># Process()</tspan><tspan x="6" dy="20"># publish()</tspan><tspan x="6" dy="20"># prepareForDestruction()</tspan><tspan x="6" dy="20"># enableTimeAccountingReports()</tspan><tspan x="6" dy="20"># setTimeAccountingReportInterest()</tspan><tspan x="6" dy="20"># loadFilesystemIds()</tspan><tspan x="6" dy="20"># publishFilesystemIds()</tspan><tspan x="6" dy="20">- finishTermination()</tspan><tspan x="6" dy="20">- Process()</tspan><tspan x="6" dy="20">- operator=()</tspan><tspan x="6" dy="20">- reportTimesUpdated()</tspan><tspan x="6" dy="20">- drainDeferredTimeAccounting()</tspan><tspan x="6" dy="20">- closeDeferredTimeAccounting()</tspan><tspan x="6" dy="20">- publishTimeAccounting()</tspan><tspan x="6" dy="20">- reportTimeAccounting()</tspan><tspan x="6" dy="20">- queueTimeAccountingReport()</tspan><tspan x="6" dy="20">- processTerminated()</tspan><tspan x="19" dy="20">and 15 more...</tspan></text></g>

<g id="n-readinesssource" transform="translate(1246,2368)"><rect class="b" width="183" height="188"/><text class="t" x="91" y="17">ReadinessSource</text><path class="s" d="M0,24H183M0,44H183"/><text><tspan x="6" y="60">+ ReadinessSource()</tspan><tspan x="6" dy="20">+ ~ReadinessSource()</tspan><tspan x="6" dy="20">+ readinessGeneration()</tspan><tspan x="6" dy="20">+ addReadinessWatcher()</tspan><tspan x="6" dy="20">+ removeReadinessWatcher()</tspan><tspan x="6" dy="20"># notifyReadiness()</tspan><tspan x="6" dy="20">- operator=()</tspan></text></g>

<g id="n-string" transform="translate(2516,1603)"><rect class="b" width="129" height="572"/><text class="t" x="64" y="17">String</text><path class="s" d="M0,24H129M0,108H129"/><text><tspan x="6" y="40">- m_Data</tspan><tspan x="6" dy="20">- m_Length</tspan><tspan x="6" dy="20">- m_Size</tspan><tspan x="6" dy="20">- m_Hash</tspan><tspan x="6" y="124">+ String()</tspan><tspan x="6" dy="20">+ String()</tspan><tspan x="6" dy="20">+ String()</tspan><tspan x="6" dy="20">+ String()</tspan><tspan x="6" dy="20">+ String()</tspan><tspan x="6" dy="20">+ String()</tspan><tspan x="6" dy="20">+ String()</tspan><tspan x="6" dy="20">+ String()</tspan><tspan x="6" dy="20">+ ~String()</tspan><tspan x="6" dy="20">+ operator=()</tspan><tspan x="20" dy="20">and 50 more...</tspan><tspan x="6" dy="20">+ Utf32ToUtf8()</tspan><tspan x="6" dy="20"># iswhitespace()</tspan><tspan x="6" dy="20"># reserve()</tspan><tspan x="6" dy="20"># computeHash()</tspan><tspan x="6" dy="20"># computeHash()</tspan><tspan x="6" dy="20"># setLength()</tspan><tspan x="6" dy="20"># setSize()</tspan><tspan x="6" dy="20">- maybeHash()</tspan><tspan x="6" dy="20">- extract()</tspan><tspan x="6" dy="20">- move()</tspan><tspan x="6" dy="20">- resizable()</tspan><tspan x="6" dy="20">- assignable()</tspan></text></g>

<g id="n-stack" transform="translate(2787,1775)"><rect class="b" width="148" height="228"/><text class="t" x="74" y="17">VirtualAddressSpace</text><text class="t" x="74" y="34">::Stack</text><path class="s" d="M0,40H148M0,104H148"/><text><tspan x="10" y="56">-  m_Top</tspan><tspan x="10" dy="20">-  m_Size</tspan><tspan x="10" dy="20">-  m_RegionId</tspan><tspan x="10" y="120">+  Stack()</tspan><tspan x="10" dy="20">+  regionId()</tspan><tspan x="10" dy="20">+  getTop()</tspan><tspan x="10" dy="20">+  getBase()</tspan><tspan x="10" dy="20">+  getSize()</tspan><tspan x="10" dy="20">+  operator void *()</tspan></text></g>

<g id="n-list" transform="translate(3164,1742)"><rect class="o" width="124" height="292"/><text class="t" x="62" y="17">List&lt; Event * &gt;</text><path class="so" d="M0,24H124M0,68H124"/><text><tspan x="6" y="40">-  m_Count</tspan><tspan x="6" dy="20">-  m_Magic</tspan><tspan x="6" y="84">+ List()</tspan><tspan x="6" dy="20">+ List()</tspan><tspan x="6" dy="20">+ ~List()</tspan><tspan x="6" dy="20">+ operator=()</tspan><tspan x="6" dy="20">+ size()</tspan><tspan x="6" dy="20">+ count()</tspan><tspan x="6" dy="20">+ pushBack()</tspan><tspan x="6" dy="20">+ pushBack()</tspan><tspan x="6" dy="20">+ tryPushBack()</tspan><tspan x="6" dy="20">+ tryPushBack()</tspan><tspan x="20" dy="20">and 16 more...</tspan></text></g>

<g id="n-altstack" transform="translate(3311,1824)"><rect class="l" width="203" height="132"/><text class="t" x="101" y="17">Thread::AlternateSignalStack</text><path class="sl" d="M0,24H203M0,108H203"/><text><tspan x="12" y="40">+   base</tspan><tspan x="12" dy="20">+   size</tspan><tspan x="12" dy="20">+   enabled</tspan><tspan x="12" dy="20">+   inUse</tspan><tspan x="12" y="124">+   AlternateSignalStack()</tspan></text></g>

<g id="n-execpers" transform="translate(3539,1801)"><rect class="l" width="150" height="172"/><text class="t" x="75" y="17">ExecutionPersonality</text><path class="sl" d="M0,24H150M0,108H150"/><text><tspan x="20" y="40">+     Native</tspan><tspan x="20" dy="20">+     Linux32</tspan><tspan x="20" dy="20">+     Query</tspan><tspan x="20" dy="20">-     m_Value</tspan><tspan x="20" y="124">+     value()</tspan><tspan x="20" dy="20">+     select()</tspan><tspan x="20" dy="20">+     inherit()</tspan></text></g>

<g id="n-tta" transform="translate(3713,1772)"><rect class="r" width="217" height="228"/><text class="t" x="108" y="17">ThreadTimeAccounting</text><path class="sr" d="M0,24H217M0,44H217"/><text><tspan x="6" y="60">+ ThreadTimeAccounting()</tspan><tspan x="6" dy="20">+ record()</tspan><tspan x="6" dy="20">+ recordAtInterruptDisabled()</tspan><tspan x="6" dy="20">+ elapsed()</tspan><tspan x="6" dy="20">+ elapsedAtInterruptDisabled()</tspan><tspan x="6" dy="20">- entry()</tspan><tspan x="6" dy="20">- ThreadTimeAccounting()</tspan><tspan x="6" dy="20">- operator=()</tspan><tspan x="6" dy="20">- installProcessorBaseline()</tspan></text></g>

<g id="n-placement" transform="translate(4155,1842)"><rect class="l" width="128" height="92"/><text class="t" x="64" y="17">ThreadPlacement</text><path class="sl" d="M0,24H128M0,48H128"/><text><tspan x="10" y="40">+  migratable</tspan><tspan x="10" y="64">+  initialUser()</tspan><tspan x="10" dy="20">+  inherit()</tspan></text></g>

<g id="n-dsr" transform="translate(4501,1781)"><rect class="b" width="180" height="192"/><text class="t" x="90" y="17">DeferredScopeRecord</text><path class="s" d="M0,24H180M0,148H180"/><text><tspan x="6" y="40">+ stateLevel</tspan><tspan x="6" dy="20">+ sequence</tspan><tspan x="6" dy="20">+ defersTermination</tspan><tspan x="6" dy="20">+ defersEvents</tspan><tspan x="6" dy="20">+ cleanup</tspan><tspan x="6" dy="20">+ active</tspan><tspan x="6" y="164">+ DeferredScopeRecord()</tspan><tspan x="6" dy="20">+ DeferredScopeRecord()</tspan></text></g>

<g id="n-thread" transform="translate(3266,2608)"><rect class="b" width="237" height="963"/><text class="t" x="118" y="17">Thread</text><path class="s" d="M0,24H237M0,237H237"/><text><tspan x="6" y="40">-  m_nStateLevel</tspan><tspan x="6" dy="19">-  m_FilesystemUid</tspan><tspan x="6" dy="19">-  m_FilesystemGid</tspan><tspan x="6" dy="19">-  m_FilesystemIdsValid</tspan><tspan x="6" dy="19">-  m_UserTime</tspan><tspan x="6" dy="19">-  m_KernelTime</tspan><tspan x="6" dy="19">-  m_CurrentTimeAccountingMode</tspan><tspan x="6" dy="19">-  m_pAllocatedStack</tspan><tspan x="6" dy="19">-  m_Id</tspan><tspan x="6" dy="19">-  m_TaskId</tspan><tspan x="20" dy="19">and 55 more...</tspan><tspan x="6" y="253">+ currentUserReturnFrame()</tspan><tspan x="6" dy="19">+ tryRequireSignalFrames()</tspan><tspan x="6" dy="19">+ clearSignalFrameRequirement()</tspan><tspan x="6" dy="19">+ setUserReturnSignalParked()</tspan><tspan x="6" dy="19">+ canSkipUserReturnWork()</tspan><tspan x="6" dy="19">+ clearUserReturnWorkIfIdle()</tspan><tspan x="6" dy="19">+ userReturnWorkPending()</tspan><tspan x="6" dy="19">+ requiresSignalFrames()</tspan><tspan x="6" dy="19">+ Thread()</tspan><tspan x="6" dy="19">+ Thread()</tspan><tspan x="20" dy="19">and 132 more...</tspan><tspan x="6" dy="19">+ threadExited()</tspan><tspan x="6" dy="19"># setScheduler()</tspan><tspan x="6" dy="19"># deferEvents()</tspan><tspan x="6" dy="19"># resumeEvents()</tspan><tspan x="6" dy="19"># deferTermination()</tspan><tspan x="6" dy="19"># resumeTermination()</tspan><tspan x="6" dy="19"># markUserReturnWorkFlag()</tspan><tspan x="6" dy="19"># clearUserReturnWorkFlag()</tspan><tspan x="6" dy="19"># markUserReturnWorkPending()</tspan><tspan x="6" dy="19"># registerDeferredScope()</tspan><tspan x="6" dy="19"># armStateCleanup()</tspan><tspan x="20" dy="19">and 10 more...</tspan><tspan x="6" dy="19">- registerFreshTermination</tspan><tspan x="20" dy="19">Deferral()</tspan><tspan x="6" dy="19">- Thread()</tspan><tspan x="6" dy="19">- Thread()</tspan><tspan x="6" dy="19">- operator=()</tspan><tspan x="6" dy="19">- publishTimeAccounting()</tspan><tspan x="6" dy="19">- initialisePlacement()</tspan><tspan x="6" dy="19">- publishReadyNotification()</tspan><tspan x="6" dy="19">- cleanStateLevel()</tspan><tspan x="6" dy="19">- beginTemporarySignalMask()</tspan><tspan x="6" dy="19">- finishTemporarySignalMask()</tspan><tspan x="20" dy="19">and 24 more...</tspan><tspan x="6" dy="19">- discardJoin()</tspan></text></g>

<g id="n-dtrn" transform="translate(3450,3844)"><rect class="b" width="207" height="68"/><text class="t" x="103" y="17">DeferredThreadReapNode</text><path class="s" d="M0,24H207M0,44H207"/><text><tspan x="8" y="60">+  DeferredThreadReapNode()</tspan></text></g>

<g id="n-termdef" transform="translate(3752,3784)"><rect class="b" width="180" height="188"/><text class="t" x="90" y="17">TerminationDeferral</text><path class="s" d="M0,24H180M0,44H180"/><text><tspan x="8" y="60">+  TerminationDeferral()</tspan><tspan x="8" dy="20">+  TerminationDeferral()</tspan><tspan x="8" dy="20">+  ~TerminationDeferral()</tspan><tspan x="8" dy="20">+  operator=()</tspan><tspan x="8" dy="20">-  initialise()</tspan><tspan x="8" dy="20">-  TerminationDeferral()</tspan><tspan x="8" dy="20">-  operator=()</tspan></text></g>

<g id="n-vector" transform="translate(2292,3704)"><rect class="o" width="142" height="352"/><text class="t" x="71" y="17">Vector&lt; Thread * &gt;</text><path class="so" d="M0,24H142M0,108H142"/><text><tspan x="6" y="40">-  m_Size</tspan><tspan x="6" dy="20">-  m_Count</tspan><tspan x="6" dy="20">-  m_Start</tspan><tspan x="6" dy="20">-  m_ReserveFactor</tspan><tspan x="6" y="124">+ Vector()</tspan><tspan x="6" dy="20">+ Vector()</tspan><tspan x="6" dy="20">+ Vector()</tspan><tspan x="6" dy="20">+ ~Vector()</tspan><tspan x="6" dy="20">+ operator=()</tspan><tspan x="6" dy="20">+ operator[]()</tspan><tspan x="6" dy="20">+ operator[]()</tspan><tspan x="6" dy="20">+ size()</tspan><tspan x="6" dy="20">+ count()</tspan><tspan x="6" dy="20">+ pushBack()</tspan><tspan x="20" dy="20">and 25 more...</tspan><tspan x="6" dy="20">-  reserve()</tspan></text></g>

<g id="n-waiter" transform="translate(2850,3724)"><rect class="o" width="181" height="312"/><text class="t" x="90" y="17">WaitQueue::Waiter</text><path class="so" d="M0,24H181M0,148H181"/><text><tspan x="6" y="40">+ channelGeneration</tspan><tspan x="6" dy="20">+ stateLevel</tspan><tspan x="6" dy="20">+ reason</tspan><tspan x="6" dy="20">+ queued</tspan><tspan x="6" dy="20">+ legacyOnAbandon</tspan><tspan x="6" dy="20">+ legacyAbandonContext</tspan><tspan x="6" y="164">+ loadQueue()</tspan><tspan x="6" dy="20">+ storeQueue()</tspan><tspan x="6" dy="20">+ loadReason()</tspan><tspan x="6" dy="20">+ storeReason()</tspan><tspan x="6" dy="20">+ isQueued()</tspan><tspan x="6" dy="20">+ setQueued()</tspan><tspan x="6" dy="20">+ storeChannel()</tspan><tspan x="6" dy="20">+ snapshotChannel()</tspan></text></g>

<g id="n-waitqueue" transform="translate(2422,4190)"><rect class="b" width="200" height="392"/><text class="t" x="100" y="17">WaitQueue</text><path class="s" d="M0,24H200M0,68H200"/><text><tspan x="6" y="40">-  m_WaiterCount</tspan><tspan x="6" dy="20">-  m_WaitIntent</tspan><tspan x="6" y="84">+ WaitQueue()</tspan><tspan x="6" dy="20">+ ~WaitQueue()</tspan><tspan x="6" dy="20">+ acquire()</tspan><tspan x="6" dy="20">+ wakeOne()</tspan><tspan x="6" dy="20">+ wakeAll()</tspan><tspan x="6" dy="20">+ wakeAllIfWaiting()</tspan><tspan x="6" dy="20">+ waiterCount()</tspan><tspan x="6" dy="20">-  wait()</tspan><tspan x="6" dy="20">-  wakeOneLocked()</tspan><tspan x="6" dy="20">-  wakeAllLocked()</tspan><tspan x="6" dy="20">-  wakeAndRequeueLocked()</tspan><tspan x="6" dy="20">-  completeWaiter()</tspan><tspan x="6" dy="20">-  removeWaiterLocked()</tspan><tspan x="6" dy="20">-  clearWaitIntentIfEmpty()</tspan><tspan x="6" dy="20">-  cancel()</tspan><tspan x="6" dy="20">-  publishReady()</tspan></text></g>

<g id="n-statelevel" transform="translate(2814,4186)"><rect class="r" width="259" height="412"/><text class="t" x="129" y="17">Thread::StateLevel</text><path class="sr" d="M0,24H259M0,328H259"/><text><tspan x="6" y="40">+ m_State</tspan><tspan x="6" dy="20">+ m_SignalMask</tspan><tspan x="6" dy="20">+ m_SavedSignalMask</tspan><tspan x="6" dy="20">+ m_TemporarySignalMaskActive</tspan><tspan x="6" dy="20">+ m_TemporarySignalWaitInterrupted</tspan><tspan x="6" dy="20">+ m_DeferredSignalMaskRestore</tspan><tspan x="6" dy="20">+ m_DispatchedSignalNumber</tspan><tspan x="6" dy="20">+ m_DispatchedSignalContinuation</tspan><tspan x="20" dy="20">Epoch</tspan><tspan x="6" dy="20">+ m_bOwnsAlternateSignalStack</tspan><tspan x="6" dy="20">+ m_Errno</tspan><tspan x="6" dy="20">+ m_InterruptionReason</tspan><tspan x="6" dy="20">+ m_bDispatchingWaitEvent</tspan><tspan x="6" dy="20">+ m_bTerminalWaitCancelled</tspan><tspan x="20" dy="20">BeforeBlock</tspan><tspan x="6" y="344">+ StateLevel()</tspan><tspan x="6" dy="20">+ ~StateLevel()</tspan><tspan x="6" dy="20">+ StateLevel()</tspan><tspan x="6" dy="20">+ operator=()</tspan></text></g>

<g id="n-treenode" transform="translate(263,4330)"><rect class="b" width="138" height="108"/><text class="t" x="69" y="17">Tree&lt; K, E &gt;::Node</text><path class="s" d="M0,24H138M0,88H138"/><text><tspan x="24" y="40">+     key</tspan><tspan x="24" dy="20">+     element</tspan><tspan x="24" dy="20">+     height</tspan></text></g>

<g id="n-iternode" transform="translate(342,4782)"><rect class="b" width="187" height="168"/><text class="t" x="93" y="17">Tree&lt; K, E &gt;::IteratorNode</text><path class="s" d="M0,24H187M0,44H187"/><text><tspan x="24" y="60">+      IteratorNode()</tspan><tspan x="24" dy="20">+      IteratorNode()</tspan><tspan x="24" dy="20">+      next()</tspan><tspan x="24" dy="20">+      previous()</tspan><tspan x="24" dy="20">+      reset()</tspan><tspan x="24" dy="20">-      traverseNext()</tspan></text></g>

<g id="n-tree" transform="translate(189,5120)"><rect class="b" width="187" height="452"/><text class="t" x="93" y="17">Tree&lt; K, E &gt;</text><path class="s" d="M0,24H187M0,48H187"/><text><tspan x="6" y="40">-  nItems</tspan><tspan x="6" y="64">+ Tree()</tspan><tspan x="6" dy="20">+ Tree()</tspan><tspan x="6" dy="20">+ ~Tree()</tspan><tspan x="6" dy="20">+ operator=()</tspan><tspan x="6" dy="20">+ count()</tspan><tspan x="6" dy="20">+ insert()</tspan><tspan x="6" dy="20">+ insert()</tspan><tspan x="6" dy="20">+ tryInsert()</tspan><tspan x="6" dy="20">+ tryInsert()</tspan><tspan x="6" dy="20">+ lookup()</tspan><tspan x="20" dy="20">and 13 more...</tspan><tspan x="6" dy="20">-  copyFrom()</tspan><tspan x="6" dy="20">-  rotateLeft()</tspan><tspan x="6" dy="20">-  rotateRight()</tspan><tspan x="6" dy="20">-  height()</tspan><tspan x="6" dy="20">-  balanceFactor()</tspan><tspan x="6" dy="20">-  rebalanceNode()</tspan><tspan x="6" dy="20">-  traverseNode_Insert()</tspan><tspan x="6" dy="20">-  traverseNode_Remove()</tspan><tspan x="6" dy="20">-  createInsertionNode()</tspan></text></g>

<g id="n-tree-uu" transform="translate(150,5830)"><rect class="l" width="185" height="468"/><text class="t" x="92" y="17">Tree&lt; UnixSocket *,</text><text class="t" x="92" y="34">UnixSocket * &gt;</text><path class="sl" d="M0,40H185M0,64H185"/><text><tspan x="6" y="56">-  nItems</tspan><tspan x="6" y="80">+ Tree()</tspan><tspan x="6" dy="20">+ Tree()</tspan><tspan x="6" dy="20">+ ~Tree()</tspan><tspan x="6" dy="20">+ operator=()</tspan><tspan x="6" dy="20">+ count()</tspan><tspan x="6" dy="20">+ insert()</tspan><tspan x="6" dy="20">+ insert()</tspan><tspan x="6" dy="20">+ tryInsert()</tspan><tspan x="6" dy="20">+ tryInsert()</tspan><tspan x="6" dy="20">+ lookup()</tspan><tspan x="20" dy="20">and 13 more...</tspan><tspan x="6" dy="20">-  copyFrom()</tspan><tspan x="6" dy="20">-  rotateLeft()</tspan><tspan x="6" dy="20">-  rotateRight()</tspan><tspan x="6" dy="20">-  height()</tspan><tspan x="6" dy="20">-  balanceFactor()</tspan><tspan x="6" dy="20">-  rebalanceNode()</tspan><tspan x="6" dy="20">-  traverseNode_Insert()</tspan><tspan x="6" dy="20">-  traverseNode_Remove()</tspan><tspan x="6" dy="20">-  createInsertionNode()</tspan></text></g>

<g id="n-tree-us" transform="translate(508,5830)"><rect class="b" width="188" height="468"/><text class="t" x="94" y="17">Tree&lt; UnixSocket *,</text><text class="t" x="94" y="34">UnixSocketSyscalls * &gt;</text><path class="s" d="M0,40H188M0,64H188"/><text><tspan x="6" y="56">-  nItems</tspan><tspan x="6" y="80">+ Tree()</tspan><tspan x="6" dy="20">+ Tree()</tspan><tspan x="6" dy="20">+ ~Tree()</tspan><tspan x="6" dy="20">+ operator=()</tspan><tspan x="6" dy="20">+ count()</tspan><tspan x="6" dy="20">+ insert()</tspan><tspan x="6" dy="20">+ insert()</tspan><tspan x="6" dy="20">+ tryInsert()</tspan><tspan x="6" dy="20">+ tryInsert()</tspan><tspan x="6" dy="20">+ lookup()</tspan><tspan x="20" dy="20">and 13 more...</tspan><tspan x="6" dy="20">-  copyFrom()</tspan><tspan x="6" dy="20">-  rotateLeft()</tspan><tspan x="6" dy="20">-  rotateRight()</tspan><tspan x="6" dy="20">-  height()</tspan><tspan x="6" dy="20">-  balanceFactor()</tspan><tspan x="6" dy="20">-  rebalanceNode()</tspan><tspan x="6" dy="20">-  traverseNode_Insert()</tspan><tspan x="6" dy="20">-  traverseNode_Remove()</tspan><tspan x="6" dy="20">-  createInsertionNode()</tspan></text></g>

<g id="n-semaphore" transform="translate(1433,4672)"><rect class="b" width="237" height="392"/><text class="t" x="118" y="17">Semaphore</text><path class="s" d="M0,24H237M0,68H237"/><text><tspan x="6" y="40">-  magic</tspan><tspan x="6" dy="20">-  m_bCanInterrupt</tspan><tspan x="6" y="84">+ Semaphore()</tspan><tspan x="6" dy="20">+ ~Semaphore()</tspan><tspan x="6" dy="20">+ acquireWithError()</tspan><tspan x="6" dy="20">+ acquireForCompletion()</tspan><tspan x="6" dy="20">+ acquire()</tspan><tspan x="6" dy="20">+ tryAcquire()</tspan><tspan x="6" dy="20">+ drainAvailable()</tspan><tspan x="6" dy="20">+ release()</tspan><tspan x="6" dy="20">+ getValue()</tspan><tspan x="6" dy="20">+ getDebugMutexOwner()</tspan><tspan x="6" dy="20"># initialiseMutex()</tspan><tspan x="6" dy="20"># destroyMutex()</tspan><tspan x="6" dy="20"># mutexOwnedByCurrentThread()</tspan><tspan x="6" dy="20">-  acquireWithResult()</tspan><tspan x="6" dy="20">-  Semaphore()</tspan><tspan x="6" dy="20">-  operator=()</tspan></text></g>

<g id="n-opbarrier" transform="translate(1779,4712)"><rect class="b" width="256" height="312"/><text class="t" x="128" y="17">OperationBarrier</text><path class="s" d="M0,24H256M0,68H256"/><text><tspan x="8" y="40">-  m_Open</tspan><tspan x="8" dy="20">-  m_ActiveOperations</tspan><tspan x="8" y="84">+  OperationBarrier()</tspan><tspan x="8" dy="20">+  ~OperationBarrier()</tspan><tspan x="8" dy="20">+  tryEnter()</tspan><tspan x="8" dy="20">+  tryAcquire()</tspan><tspan x="8" dy="20">+  leave()</tspan><tspan x="8" dy="20">+  close()</tspan><tspan x="8" dy="20">+  tryCloseIfIdle()</tspan><tspan x="8" dy="20">+  wait()</tspan><tspan x="8" dy="20">+  closeAndWait()</tspan><tspan x="8" dy="20">+  isOpen()</tspan><tspan x="8" dy="20">+  isClosedAndDrained()</tspan><tspan x="8" dy="20">-  NOT_COPYABLE_OR_ASSIGNABLE()</tspan></text></g>

<g id="n-mutex" transform="translate(1675,5280)"><rect class="b" width="204" height="128"/><text class="t" x="102" y="17">Mutex</text><path class="s" d="M0,24H204M0,44H204"/><text><tspan x="6" y="60">+ Mutex()</tspan><tspan x="6" dy="20">+ Mutex()</tspan><tspan x="6" dy="20">+ ~Mutex()</tspan><tspan x="6" dy="20">+ isOwnedByCurrentThread()</tspan></text></g>

<g id="n-netsys" transform="translate(1280,5797)"><rect class="b" width="221" height="532"/><text class="t" x="110" y="17">NetworkSyscalls</text><path class="s" d="M0,24H221M0,188H221"/><text><tspan x="6" y="40"># m_Domain</tspan><tspan x="6" dy="20"># m_Type</tspan><tspan x="6" dy="20"># m_Protocol</tspan><tspan x="6" dy="20"># m_ReceiveError</tspan><tspan x="6" dy="20"># m_ReceiveErrorGeneration</tspan><tspan x="6" dy="20">-  m_DescriptorOwners</tspan><tspan x="6" dy="20">-  m_DescriptorAdmissionOpen</tspan><tspan x="6" dy="20">-  m_LastDescriptorClosed</tspan><tspan x="6" y="204">+ NetworkSyscalls()</tspan><tspan x="6" dy="20">+ ~NetworkSyscalls()</tspan><tspan x="6" dy="20">+ create()</tspan><tspan x="6" dy="20">+ connect()</tspan><tspan x="6" dy="20">+ sendto_msg()</tspan><tspan x="6" dy="20">+ recvfrom_msg()</tspan><tspan x="6" dy="20">+ sendto()</tspan><tspan x="6" dy="20">+ recvfrom()</tspan><tspan x="6" dy="20">+ listen()</tspan><tspan x="6" dy="20">+ bind()</tspan><tspan x="20" dy="20">and 25 more...</tspan><tspan x="6" dy="20"># pendingReceiveReadiness()</tspan><tspan x="6" dy="20"># withReceiveErrorGeneration()</tspan><tspan x="6" dy="20"># beginDescriptorClose()</tspan><tspan x="6" dy="20"># hasLastDescriptorClosed()</tspan><tspan x="6" dy="20"># acquireDescriptorLifetime()</tspan><tspan x="6" dy="20"># releaseDescriptorLifetime()</tspan></text></g>

<g id="n-pps" transform="translate(2390,5642)"><rect class="o" width="264" height="852"/><text class="t" x="132" y="17">PerProcessorScheduler</text><path class="so" d="M0,24H264M0,248H264"/><text><tspan x="8" y="40">-  m_NewThreadAdmissionOpen</tspan><tspan x="8" dy="20">-  m_StopNewThreadWorker</tspan><tspan x="8" dy="20">-  m_AffinityAdmissionOpen</tspan><tspan x="8" dy="20">-  m_LogicalCpu</tspan><tspan x="8" dy="20">-  m_PhysicalCpu</tspan><tspan x="8" dy="20">-  m_NominalQuantumNs</tspan><tspan x="8" dy="20">-  m_IdleWakeRequested</tspan><tspan x="8" dy="20">-  m_SchedulerTickCounter</tspan><tspan x="8" dy="20">-  m_UserReturnDiagnosticSequence</tspan><tspan x="8" dy="20">-  DeferredReapPublicationClosed</tspan><tspan x="8" dy="20">-  DeferredReapPublicationCountMask</tspan><tspan x="8" y="264">+  PerProcessorScheduler()</tspan><tspan x="8" dy="20">+  ~PerProcessorScheduler()</tspan><tspan x="8" dy="20">+  initialise()</tspan><tspan x="8" dy="20">+  checkEventState()</tspan><tspan x="8" dy="20">+  eventHandlerReturned()</tspan><tspan x="8" dy="20">+  addThread()</tspan><tspan x="8" dy="20">+  addThread()</tspan><tspan x="8" dy="20">+  commitCurrentThreadExit()</tspan><tspan x="8" dy="20">+  abandonCurrentThreadStack()</tspan><tspan x="8" dy="20">+  requestCurrentThreadExit</tspan><tspan x="24" dy="20">ToIdle()</tspan><tspan x="24" dy="20">and 18 more...</tspan><tspan x="8" dy="20">+  stackDiscardCount()</tspan><tspan x="8" dy="20">+  stackDiscardCount()</tspan><tspan x="8" dy="20">-  addThread()</tspan><tspan x="8" dy="20">-  killCurrentThread()</tspan><tspan x="8" dy="20">-  schedule()</tspan><tspan x="8" dy="20">-  scheduleWithInterruptState()</tspan><tspan x="8" dy="20">-  blockCurrent()</tspan><tspan x="8" dy="20">-  publishReadyFromWait()</tspan><tspan x="8" dy="20">-  finishCurrentThreadExit()</tspan><tspan x="8" dy="20">-  serviceDeferredSubsystem</tspan><tspan x="24" dy="20">Exception()</tspan><tspan x="8" dy="20">-  checkEventState()</tspan><tspan x="8" dy="20">-  checkEventState()</tspan><tspan x="24" dy="20">and 14 more...</tspan><tspan x="8" dy="20">-  deleteThreadThenRestoreState()</tspan><tspan x="8" dy="20">-  deleteThread()</tspan><tspan x="8" dy="20">-  timeAccountingWorkerEntry()</tspan><tspan x="8" dy="20">-  processorAddThread()</tspan></text></g>

<g id="n-lockguard" transform="translate(2678,5977)"><rect class="b" width="256" height="172"/><text class="t" x="128" y="17">LockGuard&lt; Mutex &gt;</text><path class="s" d="M0,24H256M0,48H256"/><text><tspan x="8" y="40">-  m_bCondition</tspan><tspan x="8" y="64">+  LockGuard()</tspan><tspan x="8" dy="20">+  ~LockGuard()</tspan><tspan x="8" dy="20">+  disown()</tspan><tspan x="8" dy="20">+  ownsLock()</tspan><tspan x="8" dy="20">-  LockGuard()</tspan><tspan x="8" dy="20">-  NOT_COPYABLE_OR_ASSIGNABLE()</tspan></text></g>

<g id="n-uss" transform="translate(1500,6555)"><rect class="b" width="255" height="488"/><text class="t" x="127" y="17">UnixSocketSyscalls</text><path class="s" d="M0,24H255M0,44H255"/><text><tspan x="6" y="60">+ UnixSocketSyscalls()</tspan><tspan x="6" dy="20">+ ~UnixSocketSyscalls()</tspan><tspan x="6" dy="20">+ create()</tspan><tspan x="6" dy="20">+ connect()</tspan><tspan x="6" dy="20">+ sendto_msg()</tspan><tspan x="6" dy="20">+ recvfrom_msg()</tspan><tspan x="6" dy="20">+ listen()</tspan><tspan x="6" dy="20">+ bind()</tspan><tspan x="6" dy="20">+ accept()</tspan><tspan x="6" dy="20">+ shutdown()</tspan><tspan x="20" dy="20">and 13 more...</tspan><tspan x="6" dy="20">-  NOT_COPYABLE_OR_ASSIGNABLE()</tspan><tspan x="6" dy="20">-  registerSocket()</tspan><tspan x="6" dy="20">-  registerPeer()</tspan><tspan x="6" dy="20">-  unregisterPeer()</tspan><tspan x="6" dy="20">-  notifyPeer()</tspan><tspan x="6" dy="20">-  acquireLocalEndpoint()</tspan><tspan x="6" dy="20">-  replaceLocalEndpoint()</tspan><tspan x="6" dy="20">-  tryCompleteEndpointClose()</tspan><tspan x="6" dy="20">-  getSocketType()</tspan><tspan x="6" dy="20">-  unregisterSocket()</tspan><tspan x="6" dy="20">-  notifySocket()</tspan></text></g>

<g id="n-emg" transform="translate(1868,7103)"><rect class="g" width="204" height="104"/><text class="t" x="102" y="17">UnixSocketSyscalls</text><text class="t" x="102" y="34">::EndpointMutationGuard</text><path class="s" d="M0,40H204M0,60H204"/><text><tspan x="6" y="76">+ EndpointMutationGuard()</tspan><tspan x="6" dy="20">+ ~EndpointMutationGuard()</tspan></text></g>
</svg>
